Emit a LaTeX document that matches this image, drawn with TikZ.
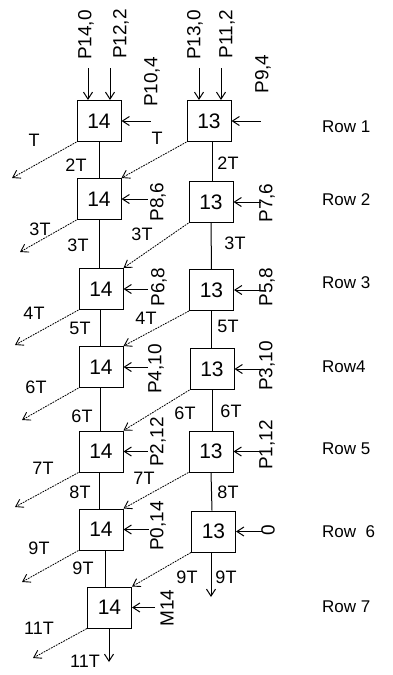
\documentclass[tikz,border=0pt]{standalone}
\usepackage{fontspec}
\setmainfont{Liberation Sans}
\usetikzlibrary{arrows.meta}
\begin{document}
\begin{tikzpicture}[x=1pt,y=-1pt,
  box/.style={draw,line width=1pt,minimum width=44pt,minimum height=41pt,inner sep=0pt,font=\fontsize{21}{21}\selectfont},
  lbl/.style={inner sep=0pt,font=\fontsize{18}{18}\selectfont},
  plbl/.style={inner sep=0pt,rotate=90,font=\fontsize{19}{19}\selectfont},
  rowlbl/.style={inner sep=0pt,anchor=west,font=\fontsize{17}{17}\selectfont},
  conn/.style={line width=1pt},
  arr/.style={line width=1pt,-{Straight Barb[length=7pt,width=9pt]}},
  diag/.style={line width=0.8pt,dash pattern=on 1.8pt off 1pt,-{Straight Barb[length=7pt,width=9pt,line width=0.9pt]}}
]
\useasboundingbox (0,0) rectangle (393,675);
\fill[white] (0,0) rectangle (393,675);
% boxes
\node[box] (L1) at (99,121) {14};
\node[box] (R1) at (209,121) {13};
\node[box] (L2) at (99,199) {14};
\node[box] (R2) at (211,202) {13};
\node[box] (L3) at (101,289) {14};
\node[box] (R3) at (211.5,290) {13};
\node[box] (L4) at (101,367) {14};
\node[box] (R4) at (212,369) {13};
\node[box] (L5) at (101,451.5) {14};
\node[box] (R5) at (211,451.5) {13};
\node[box] (L6) at (101,529.5) {14};
\node[box] (R6) at (213.5,531.5) {13};
\node[box] (L7) at (109.5,607.5) {14};
% verticals
\draw[conn] (L1.south) -- (L2.north);
\draw[conn] (L2.south) -- ([xshift=-2pt]L3.north);
\draw[conn] ([xshift=-1pt]L3.south) -- ([xshift=-1pt]L4.north);
\draw[conn] ([xshift=-1pt]L4.south) -- ([xshift=-1pt]L5.north);
\draw[conn] ([xshift=-2pt]L5.south) -- ([xshift=-2pt]L6.north);
\draw[conn] ([xshift=4pt]L6.south) -- ([xshift=-4.5pt]L7.north);
\draw[conn] ([xshift=3pt]R1.south) -- ([xshift=1pt]R2.north);
\draw[conn] (R2.south) -- (R3.north);
\draw[conn] (R3.south) -- ([xshift=-0.5pt]R4.north);
\draw[conn] (R4.south) -- ([xshift=1pt]R5.north);
\draw[conn] (R5.south) -- ([xshift=-1.5pt]R6.north);
\coordinate (v6) at (211,597);
\draw[arr] (R6.south -| v6) -- (v6);
\coordinate (v7) at (109,662);
\draw[arr] (L7.south -| v7) -- (v7);
% top arrows
\coordinate (t1) at (88,68);
\coordinate (t2) at (110,68);
\coordinate (t3) at (199,68);
\coordinate (t4) at (221,68);
\draw[arr] (t1) -- (t1 |- L1.north);
\draw[arr] (t2) -- (t2 |- L1.north);
\draw[arr] (t3) -- (t3 |- R1.north);
\draw[arr] (t4) -- (t4 |- R1.north);
% side arrows
\draw[arr] ([xshift=29pt]L1.east) -- (L1.east);
\draw[arr] ([xshift=29pt]R1.east) -- (R1.east);
\draw[arr] ([xshift=26pt]L2.east) -- (L2.east);
\draw[arr] ([xshift=27pt]R2.east) -- (R2.east);
\draw[arr] ([xshift=24pt]L3.east) -- (L3.east);
\draw[arr] ([xshift=26pt]R3.east) -- (R3.east);
\draw[arr] ([xshift=24pt]L4.east) -- (L4.east);
\draw[arr] ([xshift=26pt]R4.east) -- (R4.east);
\draw[arr] ([xshift=24pt]L5.east) -- (L5.east);
\draw[arr] ([xshift=27pt]R5.east) -- (R5.east);
\draw[arr] ([xshift=25pt]L6.east) -- (L6.east);
\draw[arr] ([xshift=26pt]R6.east) -- (R6.east);
\draw[arr] ([xshift=23pt]L7.east) -- (L7.east);
% left diagonals
\coordinate (d1) at (12,178);
\coordinate (d2) at (20,252);
\coordinate (d3) at (15,345);
\coordinate (d4) at (22,420);
\coordinate (d5) at (15,507);
\coordinate (d6) at (22,582);
\coordinate (d7) at (33,658);
\draw[diag] (L1.south west) -- (d1);
\draw[diag] (L2.south west) -- (d2);
\draw[diag] (L3.south west) -- (d3);
\draw[diag] (L4.south west) -- (d4);
\draw[diag] (L5.south west) -- (d5);
\draw[diag] (L6.south west) -- (d6);
\draw[diag] (L7.south west) -- (d7);
% right diagonals
\draw[diag] (R1.south west) -- (L2.north east);
\draw[diag] (R2.south west) -- (L3.north east);
\draw[diag] (R3.south west) -- (L4.north east);
\draw[diag] (R4.south west) -- (L5.north east);
\draw[diag] (R5.south west) -- (L6.north east);
\draw[diag] (R6.south west) -- (L7.north east);
% P labels
\node[plbl] (p140) at (86,35) {P14,0};
\node[plbl] (p122) at (121,34) {P12,2};
\node[plbl] (p104) at (152,82) {P10,4};
\node[plbl] (p130) at (195,35) {P13,0};
\node[plbl] (p112) at (227,34) {P11,2};
\node[plbl] (p94) at (263,74) {P9,4};
\node[plbl] (p86) at (158,202) {P8,6};
\node[plbl] (p76) at (267,203) {P7,6};
\node[plbl] (p68) at (159,287) {P6,8};
\node[plbl] (p58) at (267,287) {P5,8};
\node[plbl] (p410) at (156,369) {P4,10};
\node[plbl] (p310) at (267,366) {P3,10};
\node[plbl] (p212) at (158,442) {P2,12};
\node[plbl] (p112b) at (267,445) {P1,12};
\node[plbl] (p014) at (158,526) {P0,14};
\node[plbl] (p0) at (268,530) {0};
\node[plbl] (m14) at (167,608) {M14};
% T labels
\node[lbl] (a1) at (34,140) {T};
\node[lbl] (a2) at (157,138) {T};
\node[lbl] (a3) at (76,165) {2T};
\node[lbl] (a4) at (228,163) {2T};
\node[lbl] (b1) at (40,229) {3T};
\node[lbl] (b2) at (78,245) {3T};
\node[lbl] (b3) at (142,234) {3T};
\node[lbl] (b4) at (235,243) {3T};
\node[lbl] (c1) at (34,313) {4T};
\node[lbl] (c2) at (80,328) {5T};
\node[lbl] (c3) at (146,318) {4T};
\node[lbl] (c4) at (228,326) {5T};
\node[lbl] (e1) at (36,387) {6T};
\node[lbl] (e2) at (82,416) {6T};
\node[lbl] (e3) at (185,413) {6T};
\node[lbl] (e4) at (231,411) {6T};
\node[lbl] (f1) at (43,468) {7T};
\node[lbl] (f2) at (80,492) {8T};
\node[lbl] (f3) at (144,478) {7T};
\node[lbl] (f4) at (228,492) {8T};
\node[lbl] (g1) at (39,548) {9T};
\node[lbl] (g2) at (83,568) {9T};
\node[lbl] (g3) at (187,577) {9T};
\node[lbl] (g4) at (226,577) {9T};
\node[lbl] (h1) at (39,628) {11T};
\node[lbl] (h2) at (85,661) {11T};
% row labels
\node[rowlbl] (r1) at (322,127) {Row 1};
\node[rowlbl] (r2) at (322,200) {Row 2};
\node[rowlbl] (r3) at (322,283) {Row 3};
\node[rowlbl] (r4) at (322,367) {Row4};
\node[rowlbl] (r5) at (322,449) {Row 5};
\node[rowlbl] (r6) at (322,532) {Row\ \ 6};
\node[rowlbl] (r7) at (322,607) {Row 7};
\end{tikzpicture}
\end{document}
